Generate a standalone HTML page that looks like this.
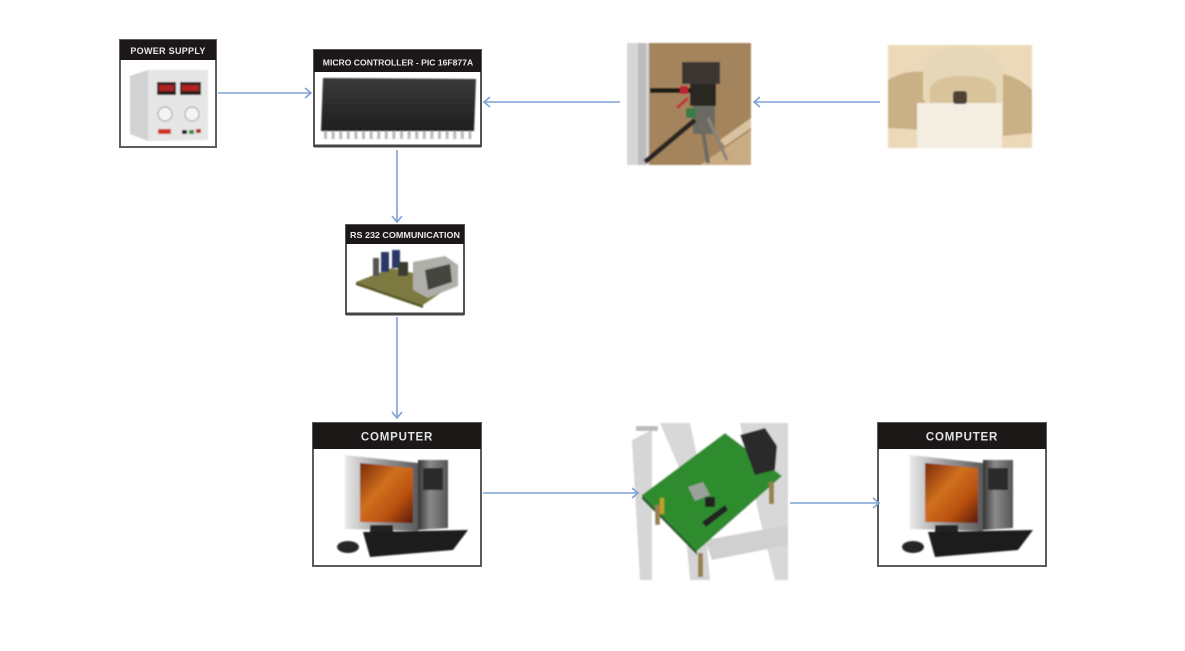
<!DOCTYPE html>
<html><head><meta charset="utf-8"><style>
html,body{margin:0;padding:0;background:#fff;}
svg{display:block;}
text{font-family:"Liberation Sans",Arial,sans-serif;font-weight:bold;}
</style></head><body>
<svg width="1185" height="651" viewBox="0 0 1185 651" xmlns="http://www.w3.org/2000/svg">
<defs>
<linearGradient id="scr" x1="0" y1="0" x2="1" y2="1"><stop offset="0" stop-color="#7a2a08"/><stop offset="0.4" stop-color="#d0701e"/><stop offset="0.7" stop-color="#b8500f"/><stop offset="1" stop-color="#5a1a05"/></linearGradient>
<linearGradient id="silver" x1="0" y1="0" x2="1" y2="0"><stop offset="0" stop-color="#e8e8e8"/><stop offset="0.5" stop-color="#9a9a9a"/><stop offset="1" stop-color="#5a5a5a"/></linearGradient>
<linearGradient id="tower" x1="0" y1="0" x2="1" y2="0"><stop offset="0" stop-color="#333"/><stop offset="0.4" stop-color="#8a8a8a"/><stop offset="1" stop-color="#555"/></linearGradient>
<linearGradient id="chip" x1="0" y1="0" x2="0" y2="1"><stop offset="0" stop-color="#3a3a3a"/><stop offset="1" stop-color="#1e1e1e"/></linearGradient>
<filter id="soft"><feGaussianBlur stdDeviation="0.8"/></filter>
<g id="computer">
  <rect x="0" y="0" width="168" height="143" fill="#fff" stroke="#5a5a5a" stroke-width="2"/>
  <rect x="0" y="0" width="168" height="26" fill="#1c1818"/>
  <text x="84" y="17.5" font-size="11.5" letter-spacing="0.8" fill="#e2e2e2" text-anchor="middle">COMPUTER</text>
  <g filter="url(#soft)">
  <polygon points="32,32 105,40 105,108 32,106" fill="url(#silver)"/>
  <polygon points="47,40 100,45 100,100 47,99" fill="url(#scr)"/>
  <polygon points="105,37 135,37 135,105 105,107" fill="url(#tower)"/>
  <rect x="110" y="45" width="20" height="22" fill="#2a2a2a"/>
  <rect x="57" y="102" width="23" height="12" fill="#222"/>
  <polygon points="50,109 155,107 140,127 57,134" fill="#1f1f1f"/>
  <ellipse cx="35" cy="124" rx="11" ry="6" fill="#262626"/>
  </g>
</g>
</defs>

<!-- Power supply -->
<rect x="120" y="40" width="96" height="107" fill="#fff" stroke="#5e5e5e" stroke-width="2"/>
<rect x="120" y="40" width="96" height="20" fill="#1c1818"/>
<text x="168" y="54" font-size="9" letter-spacing="0.3" fill="#e8e8e8" text-anchor="middle">POWER SUPPLY</text>
<g filter="url(#soft)">
<polygon points="130,76 148,70 208,70 208,140 148,141 130,134" fill="#e6e6e6"/>
<polygon points="130,76 148,70 148,141 130,134" fill="#d2d2d2"/>
<rect x="157" y="82" width="19" height="13" fill="#2a1a1a"/>
<rect x="159" y="85" width="15" height="6" fill="#b02020"/>
<rect x="180" y="82" width="21" height="13" fill="#2a1a1a"/>
<rect x="182" y="85" width="17" height="6" fill="#b02020"/>
<circle cx="165" cy="114" r="7" fill="#f4f4f4" stroke="#999"/>
<circle cx="192" cy="114" r="7" fill="#f4f4f4" stroke="#999"/>
<rect x="158" y="129" width="13" height="5" fill="#d03020"/>
<rect x="182" y="130" width="5" height="4" fill="#111"/>
<rect x="189" y="130" width="5" height="4" fill="#2a8a3a"/>
<rect x="196" y="129" width="5" height="4" fill="#c02020"/>
</g>

<!-- Micro controller -->
<rect x="314" y="50" width="167" height="96" fill="#fff" stroke="#555" stroke-width="2"/>
<line x1="314" y1="146" x2="481" y2="146" stroke="#444" stroke-width="3"/>
<rect x="314" y="50" width="167" height="22" fill="#1c1818"/>
<text x="398" y="65.5" font-size="8.6" fill="#e8e8e8" text-anchor="middle">MICRO CONTROLLER - PIC 16F877A</text>
<g filter="url(#soft)">
<polygon points="323,78 476,79 474,131 321,131" fill="url(#chip)"/>
<g fill="#b9b9b9">
<rect x="324" y="131" width="3" height="8"/><rect x="331.6" y="131" width="3" height="8"/><rect x="339.2" y="131" width="3" height="8"/><rect x="346.8" y="131" width="3" height="8"/><rect x="354.4" y="131" width="3" height="8"/><rect x="362" y="131" width="3" height="8"/><rect x="369.6" y="131" width="3" height="8"/><rect x="377.2" y="131" width="3" height="8"/><rect x="384.8" y="131" width="3" height="8"/><rect x="392.4" y="131" width="3" height="8"/><rect x="400" y="131" width="3" height="8"/><rect x="407.6" y="131" width="3" height="8"/><rect x="415.2" y="131" width="3" height="8"/><rect x="422.8" y="131" width="3" height="8"/><rect x="430.4" y="131" width="3" height="8"/><rect x="438" y="131" width="3" height="8"/><rect x="445.6" y="131" width="3" height="8"/><rect x="453.2" y="131" width="3" height="8"/><rect x="460.8" y="131" width="3" height="8"/><rect x="468.4" y="131" width="3" height="8"/>
</g>
</g>

<!-- Tripod photo -->
<g filter="url(#soft)">
<rect x="627" y="43" width="124" height="122" fill="#a4845c"/>
<rect x="627" y="43" width="22" height="122" fill="#d6d6d6"/>
<rect x="638" y="43" width="8" height="122" fill="#bcbcbc"/>
<polygon points="700,165 751,130 751,165" fill="#c9ab84"/>
<polygon points="720,140 751,118 751,128 725,146" fill="#d8c2a0"/>
<rect x="682" y="62" width="38" height="22" fill="#3a3530"/>
<rect x="690" y="84" width="26" height="22" fill="#2a2520"/>
<rect x="650" y="88" width="42" height="5" fill="#1e1a18"/>
<rect x="680" y="86" width="8" height="8" fill="#c02030"/>
<rect x="693" y="106" width="22" height="28" fill="#6a6a62"/>
<rect x="686" y="108" width="10" height="10" fill="#3a7a4a"/>
<line x1="695" y1="120" x2="645" y2="162" stroke="#2a2520" stroke-width="5"/>
<line x1="702" y1="125" x2="708" y2="163" stroke="#6e6a62" stroke-width="4"/>
<line x1="708" y1="118" x2="727" y2="160" stroke="#8a8478" stroke-width="3"/>
<line x1="677" y1="108" x2="688" y2="98" stroke="#c03040" stroke-width="3"/>
</g>

<!-- PIR sensor photo -->
<g filter="url(#soft)">
<rect x="888" y="45" width="144" height="103" fill="#ecd9b9"/>
<path d="M888,80 Q905,70 925,72 L925,130 L888,128 Z" fill="#c9b185"/>
<path d="M1003,74 Q1020,78 1032,90 L1032,133 L1003,136 Z" fill="#c9b185"/>
<path d="M923,100 L923,72 Q925,48 962,47 Q1000,48 1003,72 L1003,103 Z" fill="#e6d7b8"/>
<path d="M930,103 L930,88 Q935,76 962,76 Q992,76 996,88 L996,103 Z" fill="#d8c39a"/>
<rect x="917" y="103" width="85" height="45" fill="#f3ede2"/>
<rect x="953" y="91" width="14" height="13" rx="3" fill="#4f4234"/>
</g>

<!-- RS232 -->
<rect x="346" y="225" width="118" height="89" fill="#fff" stroke="#555" stroke-width="2"/>
<line x1="346" y1="314" x2="464" y2="314" stroke="#444" stroke-width="3"/>
<rect x="346" y="225" width="118" height="19" fill="#1c1818"/>
<text x="405" y="237.8" font-size="8.4" fill="#e8e8e8" text-anchor="middle" textLength="110" lengthAdjust="spacingAndGlyphs">RS 232 COMMUNICATION</text>
<g filter="url(#soft)">
<polygon points="356,282 392,268 455,283 423,305" fill="#7c7a40"/>
<polygon points="356,282 423,305 423,308 356,285" fill="#5a5828"/>
<rect x="373" y="258" width="6" height="18" fill="#555"/>
<rect x="381" y="252" width="8" height="20" fill="#2c3766"/>
<rect x="392" y="250" width="8" height="18" fill="#2c3766"/>
<rect x="398" y="262" width="10" height="14" fill="#3a3a30"/>
<polygon points="413,262 445,256 458,265 458,286 428,298 413,290" fill="#b0aea8"/>
<polygon points="425,270 450,264 452,282 428,290" fill="#454540"/>
</g>

<!-- Board image -->
<g filter="url(#soft)">
<rect x="632" y="423" width="156" height="157" fill="#fff"/>
<polygon points="632,440 652,430 652,580 640,580" fill="#d6d6d6"/>
<polygon points="660,423 690,423 700,470 680,470" fill="#d8d8d8"/>
<polygon points="680,470 700,470 710,580 690,580" fill="#d4d4d4"/>
<polygon points="740,423 788,423 788,580 775,580 760,520" fill="#d8d8d8"/>
<polygon points="705,540 788,525 788,545 712,560" fill="#d0d0d0"/>
<rect x="636" y="426" width="22" height="5" fill="#bbb"/>
<polygon points="642,495 725,433 782,476 697,551" fill="#2e8c2e"/>
<polygon points="642,495 697,551 697,555 642,499" fill="#1e5e1e"/>
<rect x="655" y="505" width="5" height="20" fill="#9a8050"/>
<rect x="698" y="553" width="5" height="24" fill="#9a8050"/>
<rect x="769" y="482" width="5" height="22" fill="#9a8050"/>
<polygon points="740,435 765,428 777,446 775,470 755,475" fill="#2a2a2a"/>
<polygon points="688,487 703,482 710,495 695,501" fill="#9aa09a"/>
<rect x="705" y="497" width="10" height="10" fill="#222"/>
<polygon points="702,522 725,505 728,510 706,527" fill="#222"/>
<rect x="660" y="498" width="4" height="16" fill="#c8a020"/>
</g>

<!-- Computers -->
<use href="#computer" x="313" y="423"/>
<use href="#computer" x="878" y="423"/>

<!-- Arrows -->
<g stroke="#7ea2d6" stroke-width="1.6" fill="none">
<line x1="218" y1="93" x2="311" y2="93"/><polyline points="305,88 311,93 305,98"/>
<line x1="620" y1="102" x2="484" y2="102"/><polyline points="490,97 484,102 490,107"/>
<line x1="880" y1="102" x2="754" y2="102"/><polyline points="760,97 754,102 760,107"/>
<line x1="397" y1="150" x2="397" y2="222"/><polyline points="392,216 397,222 402,216"/>
<line x1="397" y1="317" x2="397" y2="418"/><polyline points="392,412 397,418 402,412"/>
<line x1="483" y1="493" x2="638" y2="493"/><polyline points="632,488 638,493 632,498"/>
<line x1="790" y1="503" x2="879" y2="503"/><polyline points="873,498 879,503 873,508"/>
</g>
</svg>
</body></html>
